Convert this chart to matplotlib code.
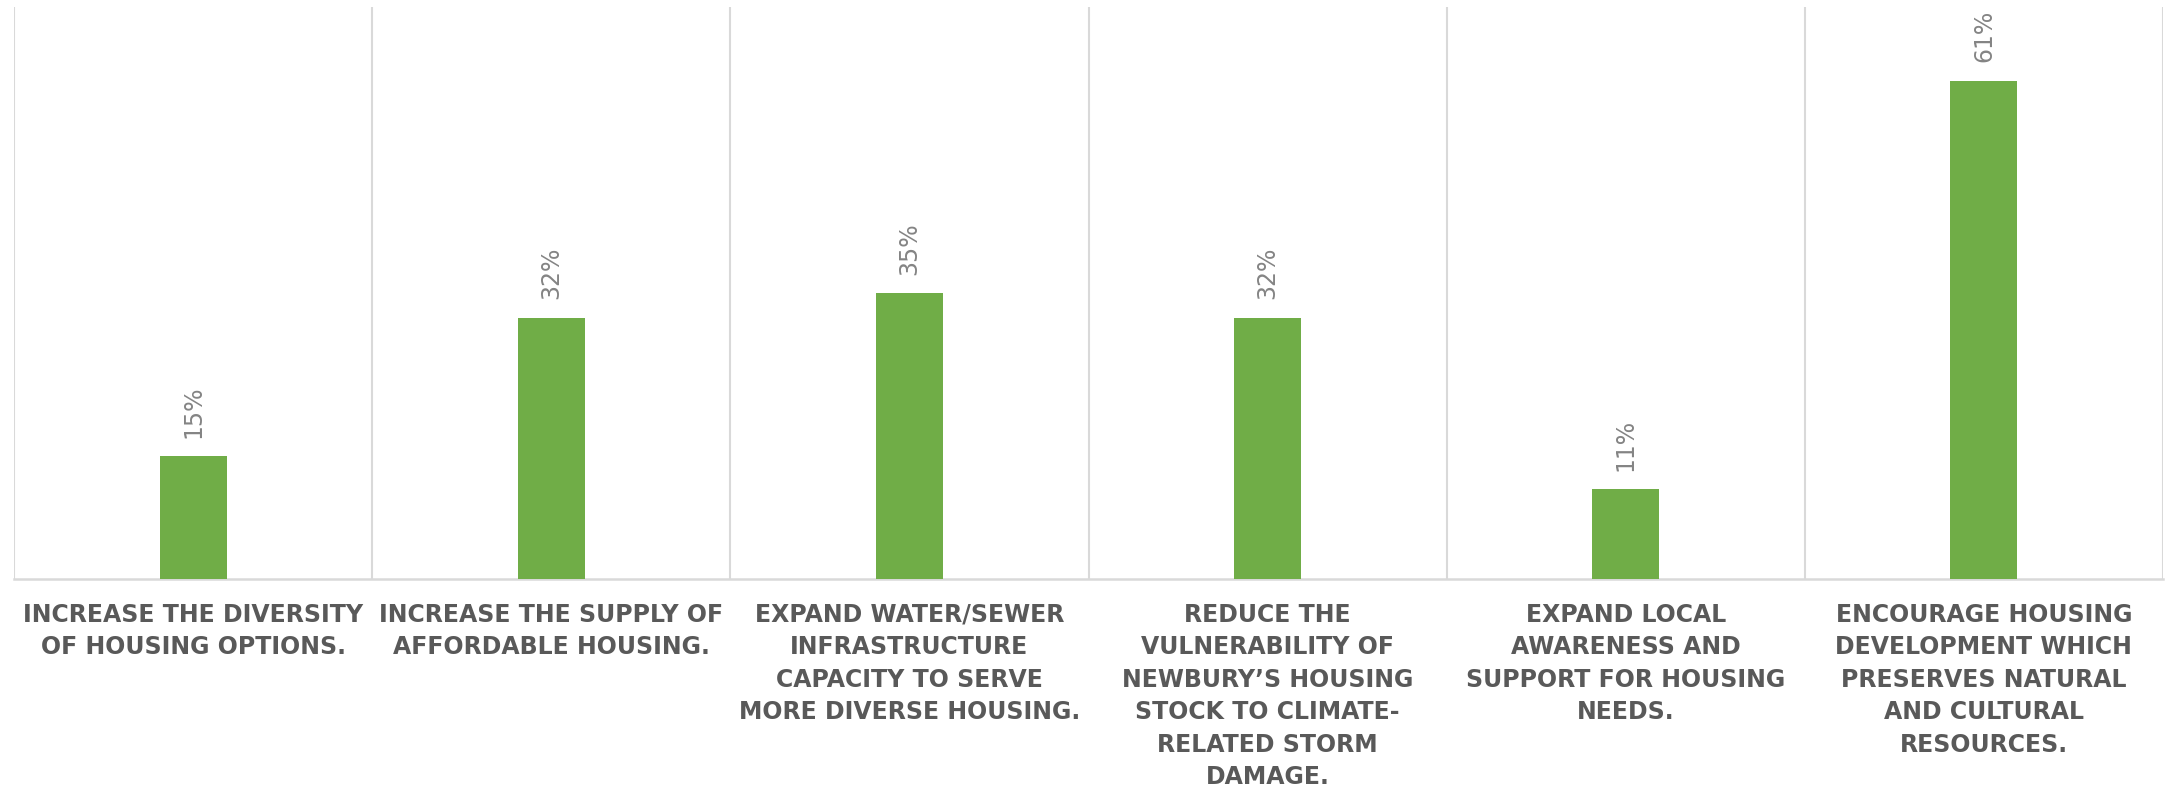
import numpy as np
import matplotlib
matplotlib.use("Agg")
import matplotlib.pyplot as plt

# -------------------
# DATA
# -------------------
GOALS = [
    "INCREASE THE DIVERSITY\nOF HOUSING OPTIONS.",
    "INCREASE THE SUPPLY OF\nAFFORDABLE HOUSING.",
    "EXPAND WATER/SEWER\nINFRASTRUCTURE\nCAPACITY TO SERVE\nMORE DIVERSE HOUSING.",
    "REDUCE THE\nVULNERABILITY OF\nNEWBURY\u2019S HOUSING\nSTOCK TO CLIMATE-\nRELATED STORM\nDAMAGE.",
    "EXPAND LOCAL\nAWARENESS AND\nSUPPORT FOR HOUSING\nNEEDS.",
    "ENCOURAGE HOUSING\nDEVELOPMENT WHICH\nPRESERVES NATURAL\nAND CULTURAL\nRESOURCES.",
]
SHARE_PCT = [15, 32, 35, 32, 11, 61]

BAR_COLOR = "#70AD47"
GRID_COLOR = "#D9D9D9"
LABEL_COLOR = "#595959"
VALUE_COLOR = "#848484"

# -------------------
# PLOT
# -------------------
fig = plt.figure(figsize=(21.65, 7.89), dpi=100)
ax = fig.add_axes([14 / 2165, 1 - 579 / 789, 2149 / 2165, 572 / 789])

x = np.arange(len(GOALS)) + 0.5
bars = ax.bar(x, SHARE_PCT, width=0.187, color=BAR_COLOR, zorder=3)

ax.set_xlim(0, len(GOALS))
ax.set_ylim(0, 70)

# category separators
ax.set_xticks(np.arange(len(GOALS) + 1), minor=True)
ax.grid(which="minor", axis="x", color=GRID_COLOR, linewidth=1.5, zorder=0)
ax.set_xticks(x)
ax.set_xticklabels(GOALS, fontsize=17, fontweight="bold", color=LABEL_COLOR,
                   family="DejaVu Sans", linespacing=1.45)
ax.tick_params(axis="x", which="both", length=0, pad=17)
ax.set_yticks([])

for side in ["top", "left", "right"]:
    ax.spines[side].set_visible(False)
ax.spines["bottom"].set_color(GRID_COLOR)
ax.spines["bottom"].set_linewidth(1.8)

for rect, v in zip(bars, SHARE_PCT):
    ax.annotate(f"{v}%", xy=(rect.get_x() + rect.get_width() / 2, v),
                xytext=(0, 13), textcoords="offset points",
                rotation=90, ha="center", va="bottom",
                fontsize=17, color=VALUE_COLOR)

fig.savefig("out.png", dpi=100)
